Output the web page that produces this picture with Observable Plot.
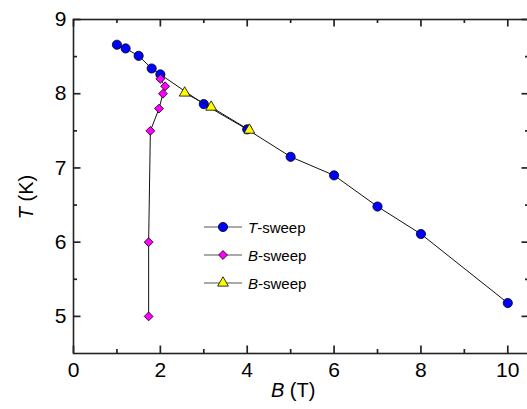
<!DOCTYPE html>
<html><head><meta charset="utf-8">
<script src="https://cdn.jsdelivr.net/npm/d3@7"></script>
<script src="https://cdn.jsdelivr.net/npm/@observablehq/plot@0.6"></script>
<style>
html,body{margin:0;padding:0;overflow:hidden;background:#fff;width:527px;height:409px}
#chart{position:relative;width:527px;height:409px;overflow:hidden}
#chart svg{display:block;max-width:none !important}
</style>
</head><body><div id="chart"></div>
<script>
// ---- data ----
const tSweepB = [1, 1.2, 1.5, 1.8, 2, 3, 4, 5, 6, 7, 8, 10];
const tSweepT = [8.66, 8.61, 8.51, 8.34, 8.26, 7.86, 7.52, 7.15, 6.90, 6.48, 6.11, 5.18];
const bSweep1B = [1.73, 1.73, 1.77, 1.97, 2.06, 2.11, 2.0];
const bSweep1T = [5.0, 6.0, 7.5, 7.8, 8.0, 8.1, 8.2];
const bSweep2B = [2.56, 3.17, 4.05];
const bSweep2T = [8.01, 7.82, 7.51];
const seriesItalic = ["T", "B", "B"];
const seriesRest = ["-sweep", "-sweep", "-sweep"];
const xMajorTicks = [0, 2, 4, 6, 8, 10];
const xMinorTicks = [1, 3, 5, 7, 9];
const yMajorTicks = [5, 6, 7, 8, 9];
const yMinorTicks = [5.5, 6.5, 7.5, 8.5];
const xTitleItalic = "B", xTitleRest = " (T)";
const yTitleItalic = "T", yTitleRest = " (K)";

// ---- styles / layout ----
const symbols = ["circle", "diamond2", "triangle"];
const d3symbols = [d3.symbolCircle, d3.symbolDiamond2, d3.symbolTriangle];
const fills = ["#0000ff", "#ff00ff", "#ffff00"];
const radii = [4.6, 4.0, 4.0];
const axisColor = "#222";
const font = "'Liberation Sans', Arial, Helvetica, sans-serif";
const W = 540, H = 409, mL = 73, mR = 11, mT = 19, mB = 56;
const frameW = W - mL - mR, frameH = H - mT - mB;
const majorLen = 7.5, minorLen = 4;

const seriesData = [
  tSweepB.map((b, i) => ({B: b, T: tSweepT[i]})),
  bSweep1B.map((b, i) => ({B: b, T: bSweep1T[i]})),
  bSweep2B.map((b, i) => ({B: b, T: bSweep2T[i]}))
];

const marks = [];
seriesData.forEach((d, i) => {
  marks.push(Plot.line(d, {x: "B", y: "T", stroke: "#111", strokeWidth: 1}));
  marks.push(Plot.dot(d, {x: "B", y: "T", symbol: () => symbols[i], r: radii[i], fill: fills[i], stroke: "#000", strokeWidth: 0.8}));
});

const tk = {stroke: axisColor, strokeWidth: 1.7};
const plot = Plot.plot({
  width: W, height: H,
  marginLeft: mL, marginRight: mR, marginTop: mT, marginBottom: mB,
  style: {fontFamily: font, background: "white", color: "#000", maxWidth: "none"},
  x: {domain: [0, 10.5], label: null},
  y: {domain: [4.5, 9], label: null},
  symbol: {type: "identity"},
  marks: [
    Plot.frame({stroke: axisColor, strokeWidth: 1.6}),
    // inward ticks on all four sides
    Plot.tickX(xMajorTicks, {x: d => d, insetTop: frameH - majorLen, ...tk}),
    Plot.tickX(xMinorTicks, {x: d => d, insetTop: frameH - minorLen, ...tk}),
    Plot.tickX(xMajorTicks, {x: d => d, insetBottom: frameH - majorLen, ...tk}),
    Plot.tickX(xMinorTicks, {x: d => d, insetBottom: frameH - minorLen, ...tk}),
    Plot.tickY(yMajorTicks, {y: d => d, insetRight: frameW - majorLen, ...tk}),
    Plot.tickY(yMinorTicks, {y: d => d, insetRight: frameW - minorLen, ...tk}),
    Plot.tickY(yMajorTicks, {y: d => d, insetLeft: frameW - majorLen, ...tk}),
    Plot.tickY(yMinorTicks, {y: d => d, insetLeft: frameW - minorLen, ...tk}),
    // tick labels
    Plot.axisX({anchor: "bottom", ticks: xMajorTicks, tickSize: 0, tickPadding: 9, fontSize: 21, label: null, tickFormat: d3.format("d"), fill: "#000"}),
    Plot.axisY({anchor: "left", ticks: yMajorTicks, tickSize: 0, tickPadding: 7, fontSize: 21, label: null, tickFormat: d3.format("d"), fill: "#000"}),
    ...marks
  ]
});

document.getElementById("chart").appendChild(plot);

const svg = d3.select(plot);
const xs = plot.scale("x"), ys = plot.scale("y");

// axis titles
const xt = svg.append("text")
  .attr("x", (xs.apply(0) + xs.apply(10)) / 2 + 3).attr("y", 397)
  .attr("text-anchor", "middle").attr("font-size", 20).attr("font-family", font).attr("fill", "#000");
xt.append("tspan").attr("font-style", "italic").text(xTitleItalic);
xt.append("tspan").text(xTitleRest);

const yt = svg.append("text")
  .attr("transform", `translate(33,${(ys.apply(9) + ys.apply(4.5)) / 2 + 11}) rotate(-90)`)
  .attr("text-anchor", "middle").attr("font-size", 20).attr("font-family", font).attr("fill", "#000");
yt.append("tspan").attr("font-style", "italic").text(yTitleItalic);
yt.append("tspan").text(yTitleRest);

// legend
const lg = svg.append("g").attr("transform", "translate(204,227)");
seriesData.forEach((d, i) => {
  const row = lg.append("g").attr("transform", `translate(0,${i * 28})`);
  row.append("line").attr("x1", 0).attr("x2", 38).attr("y1", 0).attr("y2", 0).attr("stroke", "#555").attr("stroke-width", 1.2);
  row.append("path").attr("transform", "translate(19,0)")
    .attr("d", d3.symbol(d3symbols[i], Math.PI * radii[i] * radii[i])())
    .attr("fill", fills[i]).attr("stroke", "#000").attr("stroke-width", 0.8);
  const t = row.append("text").attr("x", 44).attr("y", 5.5).attr("text-anchor", "start")
    .attr("font-size", 15).attr("font-family", font).attr("fill", "#000");
  t.append("tspan").attr("font-style", "italic").text(seriesItalic[i]);
  t.append("tspan").text(seriesRest[i]);
});
</script>
</body></html>
